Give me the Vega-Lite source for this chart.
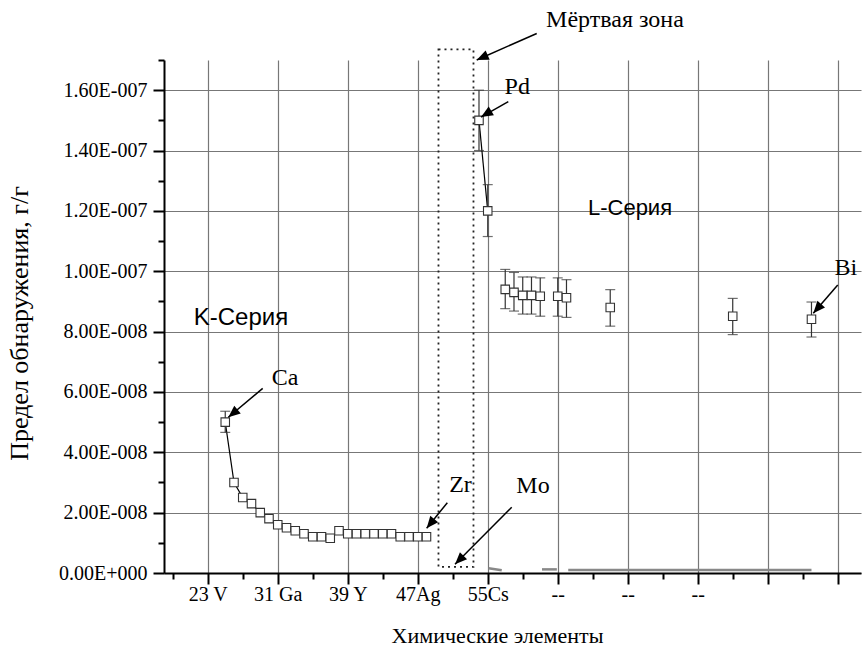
{
  "$schema": "https://vega.github.io/schema/vega-lite/v6.json",
  "width": 697,
  "height": 513,
  "autosize": {"type": "none"},
  "padding": {"left": 164, "top": 60, "right": 1, "bottom": 82},
  "background": "white",
  "config": {"view": {"stroke": null}, "font": "Liberation Serif"},
  "datasets": {
    "main": [
      {"pos": 25, "value": 5.0e-8, "lo": 4.66e-8, "hi": 5.36e-8, "group": "K"},
      {"pos": 26, "value": 3.0e-8, "lo": null, "hi": null, "group": "K"},
      {"pos": 27, "value": 2.5e-8, "lo": null, "hi": null, "group": "K"},
      {"pos": 28, "value": 2.3e-8, "lo": null, "hi": null, "group": "K"},
      {"pos": 29, "value": 2.0e-8, "lo": null, "hi": null, "group": "K"},
      {"pos": 30, "value": 1.8e-8, "lo": null, "hi": null, "group": "K"},
      {"pos": 31, "value": 1.6e-8, "lo": null, "hi": null, "group": "K"},
      {"pos": 32, "value": 1.5e-8, "lo": null, "hi": null, "group": "K"},
      {"pos": 33, "value": 1.4e-8, "lo": null, "hi": null, "group": "K"},
      {"pos": 34, "value": 1.3e-8, "lo": null, "hi": null, "group": "K"},
      {"pos": 35, "value": 1.2e-8, "lo": null, "hi": null, "group": "K"},
      {"pos": 36, "value": 1.2e-8, "lo": null, "hi": null, "group": "K"},
      {"pos": 37, "value": 1.15e-8, "lo": null, "hi": null, "group": "K"},
      {"pos": 38, "value": 1.4e-8, "lo": null, "hi": null, "group": "K"},
      {"pos": 39, "value": 1.3e-8, "lo": null, "hi": null, "group": "K"},
      {"pos": 40, "value": 1.3e-8, "lo": null, "hi": null, "group": "K"},
      {"pos": 41, "value": 1.3e-8, "lo": null, "hi": null, "group": "K"},
      {"pos": 42, "value": 1.3e-8, "lo": null, "hi": null, "group": "K"},
      {"pos": 43, "value": 1.3e-8, "lo": null, "hi": null, "group": "K"},
      {"pos": 44, "value": 1.3e-8, "lo": null, "hi": null, "group": "K"},
      {"pos": 45, "value": 1.2e-8, "lo": null, "hi": null, "group": "K"},
      {"pos": 46, "value": 1.2e-8, "lo": null, "hi": null, "group": "K"},
      {"pos": 47, "value": 1.2e-8, "lo": null, "hi": null, "group": "K"},
      {"pos": 48, "value": 1.2e-8, "lo": null, "hi": null, "group": "K"},
      {"pos": 54, "value": 1.5e-7, "lo": 1.40e-7, "hi": 1.60e-7, "group": "L1"},
      {"pos": 55, "value": 1.2e-7, "lo": 1.115e-7, "hi": 1.287e-7, "group": "L1"},
      {"pos": 57, "value": 9.4e-8, "lo": 8.76e-8, "hi": 1.006e-7, "group": "L"},
      {"pos": 58, "value": 9.3e-8, "lo": 8.68e-8, "hi": 9.96e-8, "group": "L"},
      {"pos": 59, "value": 9.2e-8, "lo": 8.58e-8, "hi": 9.81e-8, "group": "L"},
      {"pos": 60, "value": 9.2e-8, "lo": 8.58e-8, "hi": 9.81e-8, "group": "L"},
      {"pos": 61, "value": 9.17e-8, "lo": 8.51e-8, "hi": 9.78e-8, "group": "L"},
      {"pos": 63, "value": 9.17e-8, "lo": 8.51e-8, "hi": 9.78e-8, "group": "L"},
      {"pos": 64, "value": 9.12e-8, "lo": 8.47e-8, "hi": 9.72e-8, "group": "L"},
      {"pos": 69, "value": 8.8e-8, "lo": 8.18e-8, "hi": 9.39e-8, "group": "L"},
      {"pos": 83, "value": 8.51e-8, "lo": 7.9e-8, "hi": 9.1e-8, "group": "L"},
      {"pos": 92, "value": 8.41e-8, "lo": 7.82e-8, "hi": 8.98e-8, "group": "L"}
    ],
    "zero": [
      {"seg": "a", "pos": 55.1, "value": 1.6e-9},
      {"seg": "a", "pos": 56.6, "value": 0.9e-9},
      {"seg": "b", "pos": 61.2, "value": 1.2e-9},
      {"seg": "b", "pos": 62.9, "value": 1.2e-9},
      {"seg": "c", "pos": 64.2, "value": 1.0e-9},
      {"seg": "c", "pos": 92, "value": 1.0e-9}
    ],
    "zone": [{"x1": 49.37, "x2": 53.37, "y1": 2e-9, "y2": 1.735e-7}],
    "arrows": [
      {"ax": 60.6, "ay": 1.788e-7, "bx": 53.74, "by": 1.70e-7, "ang": 246},
      {"ax": 57.35, "ay": 1.562e-7, "bx": 54.23, "by": 1.511e-7, "ang": 239},
      {"ax": 29.28, "ay": 6.12e-8, "bx": 25.35, "by": 5.16e-8, "ang": 230},
      {"ax": 50.38, "ay": 2.33e-8, "bx": 48.02, "by": 1.48e-8, "ang": 219},
      {"ax": 57.74, "ay": 2.18e-8, "bx": 51.26, "by": 2.9e-9, "ang": 225},
      {"ax": 95.0, "ay": 9.54e-8, "bx": 92.21, "by": 8.61e-8, "ang": 221}
    ],
    "notes": [
      {"t": "Мёртвая зона", "x": 69.54, "y": 1.833e-7},
      {"t": "Pd", "x": 58.37, "y": 1.61e-7},
      {"t": "Ca", "x": 31.83, "y": 6.46e-8},
      {"t": "Zr", "x": 51.89, "y": 2.90e-8},
      {"t": "Mo", "x": 60.17, "y": 2.88e-8},
      {"t": "Bi", "x": 95.94, "y": 1.011e-7}
    ],
    "kser": [{"t": "K-Серия", "x": 26.8, "y": 8.45e-8}],
    "lser": [{"t": "L-Серия", "x": 71.26, "y": 1.21e-7}]
  },
  "resolve": {"axis": {"x": "independent", "y": "independent"}},
  "layer": [
    {
      "data": {"name": "main"},
      "mark": {"type": "point", "opacity": 0},
      "encoding": {
        "x": {"field": "pos", "type": "quantitative",
          "scale": {"domain": [18, 97.66], "nice": false, "zero": false},
          "axis": {
            "orient": "bottom",
            "values": [23, 31, 39, 47, 55, 63, 71, 79, 87, 95],
            "labelExpr": "datum.value == 23 ? '23 V' : datum.value == 31 ? '31 Ga' : datum.value == 39 ? '39 Y' : datum.value == 47 ? '47Ag' : datum.value == 55 ? '55Cs' : (datum.value == 63 || datum.value == 71 || datum.value == 79) ? '--' : ''",
            "labelAlign": "center", "labelDx": 20, "labelPadding": 0, "labelBaseline": "top",
            "labelFont": "Liberation Serif", "labelFontSize": 20, "labelColor": "black",
            "tickSize": 11, "tickWidth": 2, "tickColor": "black",
            "domainColor": "black", "domainWidth": 2,
            "grid": true, "gridColor": "#777777", "gridWidth": 1.2,
            "title": "Химические элементы", "titleFont": "Liberation Serif", "titleFontSize": 22,
            "titleFontWeight": "normal", "titleColor": "black",
            "titleX": 333, "titleY": 62, "titleBaseline": "middle", "titleAlign": "center"
          }},
        "y": {"field": "value", "type": "quantitative",
          "scale": {"domain": [0, 1.7e-7], "nice": false, "zero": false},
          "axis": {
            "orient": "left",
            "values": [0, 2e-8, 4e-8, 6e-8, 8e-8, 1e-7, 1.2e-7, 1.4e-7, 1.6e-7],
            "labelExpr": "datum.value == 0 ? '0.00E+000' : format(datum.value / pow(10, floor(log(datum.value) / LN10 + 1e-9)), '.2f') + 'E-' + pad(toString(-floor(log(datum.value) / LN10 + 1e-9)), 3, '0', 'left')",
            "labelFont": "Liberation Serif", "labelFontSize": 20, "labelColor": "black", "labelPadding": 6,
            "tickSize": 11, "tickWidth": 2, "tickColor": "black",
            "domainColor": "black", "domainWidth": 2,
            "grid": true, "gridColor": "#777777", "gridWidth": 1.2,
            "title": "Предел обнаружения, г/г", "titleFont": "Liberation Serif", "titleFontSize": 26,
            "titleFontWeight": "normal", "titleColor": "black",
            "titleX": -145, "titleY": 263, "titleBaseline": "middle", "titleAlign": "center", "titleAngle": -90
          }}
      }
    },
    {
      "data": {"name": "main"},
      "mark": {"type": "point", "opacity": 0},
      "encoding": {
        "x": {"field": "pos", "type": "quantitative",
          "scale": {"domain": [18, 97.66], "nice": false, "zero": false},
          "axis": {"orient": "bottom", "values": [19, 27, 35, 43, 51, 59, 67, 75, 83, 91],
            "labels": false, "grid": false, "domain": false, "title": null,
            "tickSize": 6, "tickWidth": 2, "tickColor": "black"}},
        "y": {"field": "value", "type": "quantitative",
          "scale": {"domain": [0, 1.7e-7], "nice": false, "zero": false},
          "axis": {"orient": "left", "values": [1e-8, 3e-8, 5e-8, 7e-8, 9e-8, 1.1e-7, 1.3e-7, 1.5e-7, 1.7e-7],
            "labels": false, "grid": false, "domain": false, "title": null,
            "tickSize": 6, "tickWidth": 2, "tickColor": "black"}}
      }
    },
    {
      "data": {"name": "zone"},
      "mark": {"type": "rect", "fill": "white", "fillOpacity": 0, "stroke": "#222222", "strokeWidth": 1.8, "strokeDash": [2, 4]},
      "encoding": {
        "x": {"field": "x1", "type": "quantitative", "scale": {"domain": [18, 97.66], "nice": false, "zero": false}, "axis": null},
        "x2": {"field": "x2"},
        "y": {"field": "y1", "type": "quantitative", "scale": {"domain": [0, 1.7e-7], "nice": false, "zero": false}, "axis": null},
        "y2": {"field": "y2"}
      }
    },
    {
      "data": {"name": "zero"},
      "mark": {"type": "line", "color": "#888888", "strokeWidth": 2.5},
      "encoding": {
        "x": {"field": "pos", "type": "quantitative", "scale": {"domain": [18, 97.66], "nice": false, "zero": false}, "axis": null},
        "y": {"field": "value", "type": "quantitative", "scale": {"domain": [0, 1.7e-7], "nice": false, "zero": false}, "axis": null},
        "detail": {"field": "seg", "type": "nominal"}
      }
    },
    {
      "data": {"name": "main"},
      "transform": [{"filter": "datum.group != 'L'"}],
      "mark": {"type": "line", "color": "black", "strokeWidth": 1.2},
      "encoding": {
        "x": {"field": "pos", "type": "quantitative", "scale": {"domain": [18, 97.66], "nice": false, "zero": false}, "axis": null},
        "y": {"field": "value", "type": "quantitative", "scale": {"domain": [0, 1.7e-7], "nice": false, "zero": false}, "axis": null},
        "detail": {"field": "group", "type": "nominal"}
      }
    },
    {
      "data": {"name": "main"},
      "transform": [{"filter": "isValid(datum.lo)"}],
      "mark": {"type": "rule", "color": "#333333", "strokeWidth": 1.2},
      "encoding": {
        "x": {"field": "pos", "type": "quantitative", "scale": {"domain": [18, 97.66], "nice": false, "zero": false}, "axis": null},
        "y": {"field": "lo", "type": "quantitative", "scale": {"domain": [0, 1.7e-7], "nice": false, "zero": false}, "axis": null},
        "y2": {"field": "hi"}
      }
    },
    {
      "data": {"name": "main"},
      "transform": [{"filter": "isValid(datum.lo)"}],
      "mark": {"type": "tick", "orient": "horizontal", "color": "#333333", "size": 10, "thickness": 1.2},
      "encoding": {
        "x": {"field": "pos", "type": "quantitative", "scale": {"domain": [18, 97.66], "nice": false, "zero": false}, "axis": null},
        "y": {"field": "lo", "type": "quantitative", "scale": {"domain": [0, 1.7e-7], "nice": false, "zero": false}, "axis": null}
      }
    },
    {
      "data": {"name": "main"},
      "transform": [{"filter": "isValid(datum.hi)"}],
      "mark": {"type": "tick", "orient": "horizontal", "color": "#333333", "size": 10, "thickness": 1.2},
      "encoding": {
        "x": {"field": "pos", "type": "quantitative", "scale": {"domain": [18, 97.66], "nice": false, "zero": false}, "axis": null},
        "y": {"field": "hi", "type": "quantitative", "scale": {"domain": [0, 1.7e-7], "nice": false, "zero": false}, "axis": null}
      }
    },
    {
      "data": {"name": "main"},
      "mark": {"type": "point", "shape": "square", "filled": true, "fill": "white", "stroke": "#333333", "strokeWidth": 1.1, "size": 72, "opacity": 1},
      "encoding": {
        "x": {"field": "pos", "type": "quantitative", "scale": {"domain": [18, 97.66], "nice": false, "zero": false}, "axis": null},
        "y": {"field": "value", "type": "quantitative", "scale": {"domain": [0, 1.7e-7], "nice": false, "zero": false}, "axis": null}
      }
    },
    {
      "data": {"name": "arrows"},
      "mark": {"type": "rule", "color": "black", "strokeWidth": 1.5},
      "encoding": {
        "x": {"field": "ax", "type": "quantitative", "scale": {"domain": [18, 97.66], "nice": false, "zero": false}, "axis": null},
        "y": {"field": "ay", "type": "quantitative", "scale": {"domain": [0, 1.7e-7], "nice": false, "zero": false}, "axis": null},
        "x2": {"field": "bx"},
        "y2": {"field": "by"}
      }
    },
    {
      "data": {"name": "arrows"},
      "mark": {"type": "point", "shape": "M0,0L0.42,1L-0.42,1Z", "filled": true, "color": "black", "opacity": 1, "size": 576, "strokeWidth": 0},
      "encoding": {
        "x": {"field": "bx", "type": "quantitative", "scale": {"domain": [18, 97.66], "nice": false, "zero": false}, "axis": null},
        "y": {"field": "by", "type": "quantitative", "scale": {"domain": [0, 1.7e-7], "nice": false, "zero": false}, "axis": null},
        "angle": {"field": "ang", "type": "quantitative", "scale": null}
      }
    },
    {
      "data": {"name": "notes"},
      "mark": {"type": "text", "font": "Liberation Serif", "fontSize": 24, "color": "black", "align": "center", "baseline": "middle"},
      "encoding": {
        "x": {"field": "x", "type": "quantitative", "scale": {"domain": [18, 97.66], "nice": false, "zero": false}, "axis": null},
        "y": {"field": "y", "type": "quantitative", "scale": {"domain": [0, 1.7e-7], "nice": false, "zero": false}, "axis": null},
        "text": {"field": "t"}
      }
    },
    {
      "data": {"name": "kser"},
      "mark": {"type": "text", "font": "Liberation Sans", "fontSize": 24, "color": "black", "align": "center", "baseline": "middle"},
      "encoding": {
        "x": {"field": "x", "type": "quantitative", "scale": {"domain": [18, 97.66], "nice": false, "zero": false}, "axis": null},
        "y": {"field": "y", "type": "quantitative", "scale": {"domain": [0, 1.7e-7], "nice": false, "zero": false}, "axis": null},
        "text": {"field": "t"}
      }
    },
    {
      "data": {"name": "lser"},
      "mark": {"type": "text", "font": "Liberation Sans", "fontSize": 22, "color": "black", "align": "center", "baseline": "middle"},
      "encoding": {
        "x": {"field": "x", "type": "quantitative", "scale": {"domain": [18, 97.66], "nice": false, "zero": false}, "axis": null},
        "y": {"field": "y", "type": "quantitative", "scale": {"domain": [0, 1.7e-7], "nice": false, "zero": false}, "axis": null},
        "text": {"field": "t"}
      }
    }
  ]
}
